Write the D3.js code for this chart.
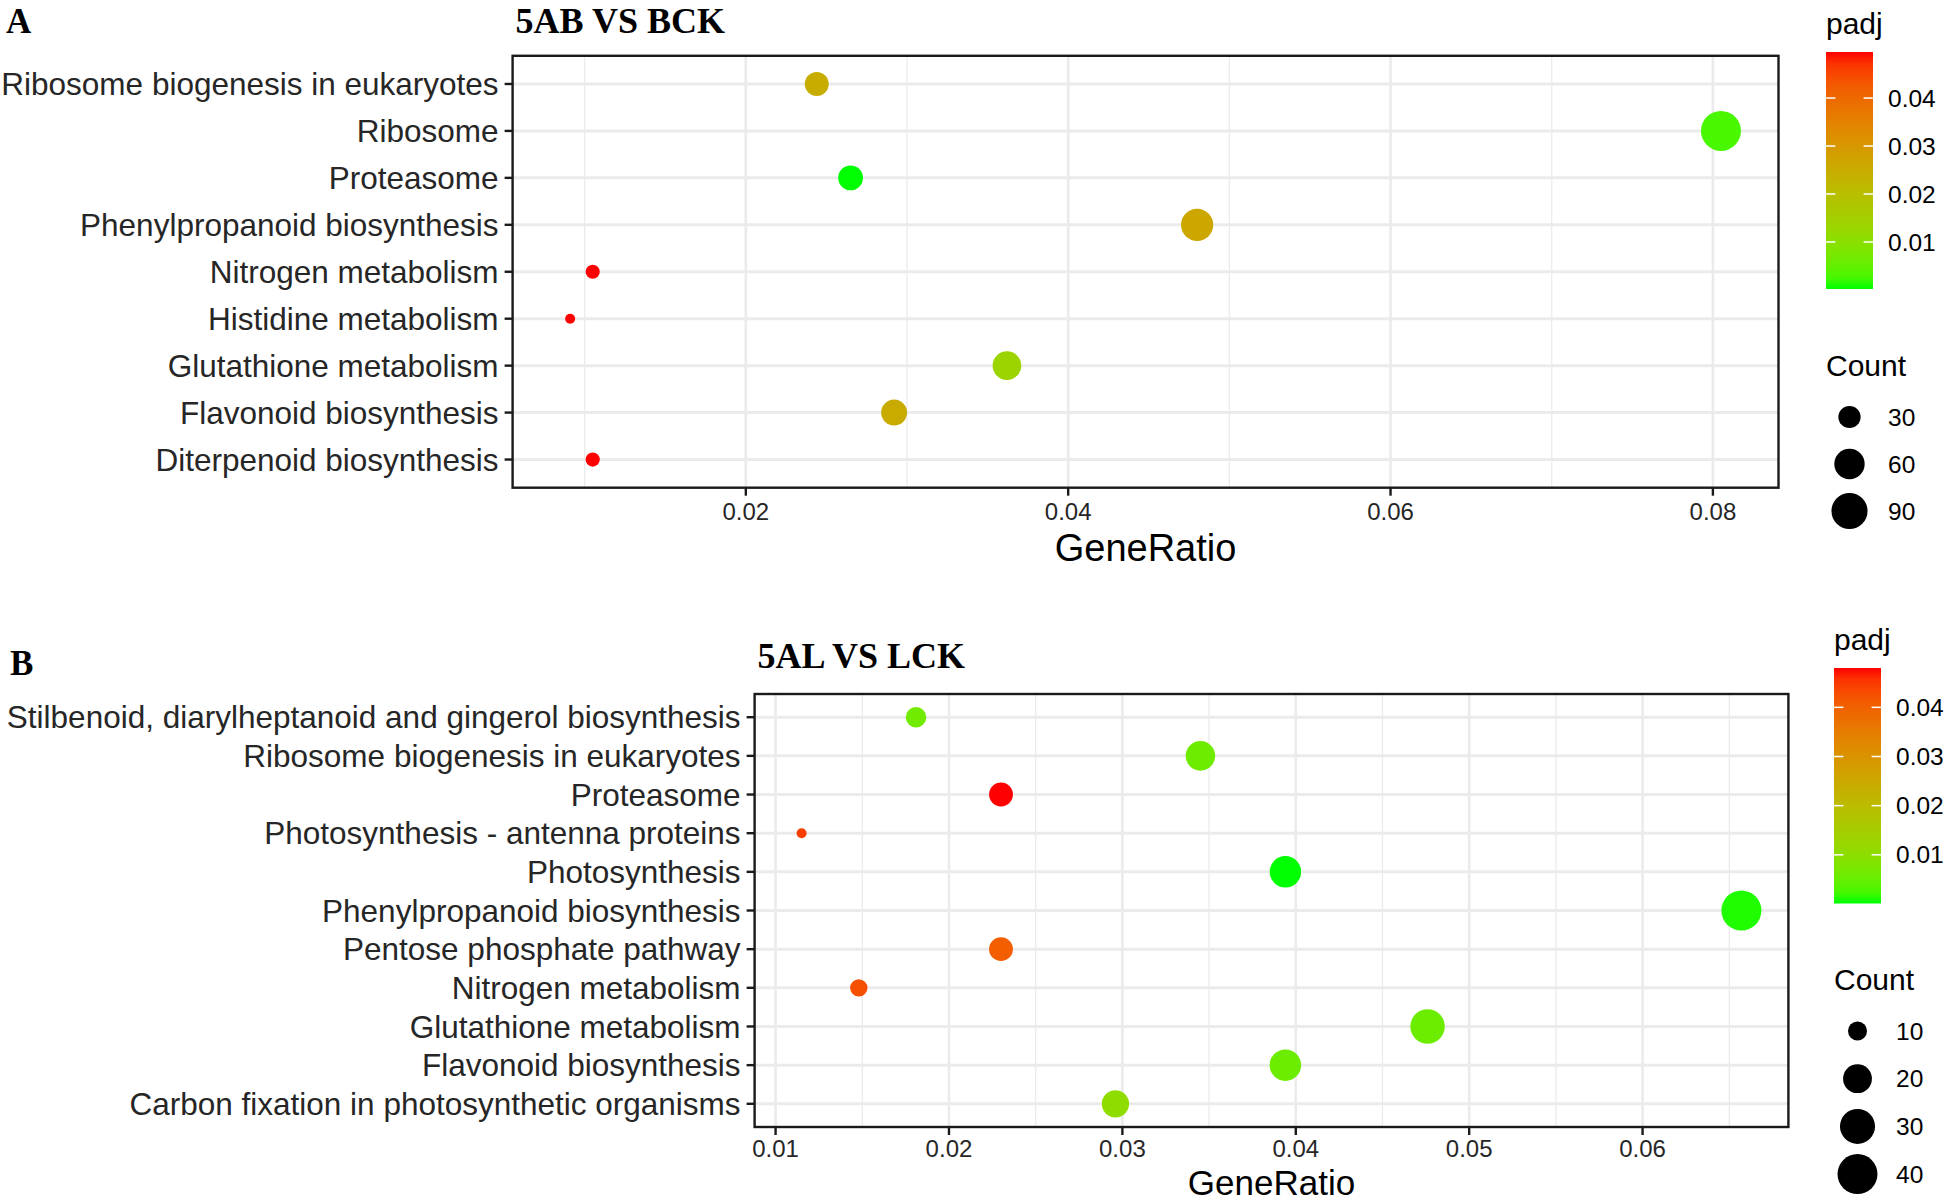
<!DOCTYPE html>
<html>
<head>
<meta charset="utf-8">
<script src="https://cdn.jsdelivr.net/npm/d3@7"></script>
<style>
  html, body { margin: 0; padding: 0; background: #ffffff; }
  svg { display: block; }
</style>
</head>
<body>
<svg id="chart" width="1946" height="1202"></svg>
<script>
// ---------------- DATA ----------------
// Panel A: 5AB VS BCK
const aTitle = "5AB VS BCK";
const aCategories = [
  "Ribosome biogenesis in eukaryotes",
  "Ribosome",
  "Proteasome",
  "Phenylpropanoid biosynthesis",
  "Nitrogen metabolism",
  "Histidine metabolism",
  "Glutathione metabolism",
  "Flavonoid biosynthesis",
  "Diterpenoid biosynthesis"
];
const aGeneRatio = [0.0244, 0.0805, 0.0265, 0.0480, 0.0105, 0.0091, 0.0362, 0.0292, 0.0105];
const aCount     = [35, 115, 38, 69, 15, 13, 52, 42, 15];
const aPadj      = [0.0245, 0.0027, 0.0002, 0.0260, 0.0496, 0.0496, 0.0135, 0.0250, 0.0496];
const aXTicks    = [0.02, 0.04, 0.06, 0.08];
const aPadjTicks = [0.01, 0.02, 0.03, 0.04];
const aCountBreaks = [30, 60, 90];

// Panel B: 5AL VS LCK
const bTitle = "5AL VS LCK";
const bCategories = [
  "Stilbenoid, diarylheptanoid and gingerol biosynthesis",
  "Ribosome biogenesis in eukaryotes",
  "Proteasome",
  "Photosynthesis - antenna proteins",
  "Photosynthesis",
  "Phenylpropanoid biosynthesis",
  "Pentose phosphate pathway",
  "Nitrogen metabolism",
  "Glutathione metabolism",
  "Flavonoid biosynthesis",
  "Carbon fixation in photosynthetic organisms"
];
const bGeneRatio = [0.0181, 0.0345, 0.0230, 0.0115, 0.0394, 0.0657, 0.0230, 0.0148, 0.0476, 0.0394, 0.0296];
const bCount     = [11, 21, 14, 7, 24, 40, 14, 9, 29, 24, 18];
const bPadj      = [0.0062, 0.0058, 0.0480, 0.0445, 0.0001, 0.0006, 0.0405, 0.0425, 0.0056, 0.0056, 0.0105];
const bXTicks    = [0.01, 0.02, 0.03, 0.04, 0.05, 0.06];
const bPadjTicks = [0.01, 0.02, 0.03, 0.04];
const bCountBreaks = [10, 20, 30, 40];

const panelLetters = ["A", "B"];
const xAxisTitle = "GeneRatio";
const colorTitle = "padj";
const sizeTitle = "Count";

// ---------------- LAYOUT ----------------
const svg = d3.select("#chart");
svg.append("rect").attr("width", 1946).attr("height", 1202).attr("fill", "#fff");

const SANS = "'Liberation Sans', Arial, Helvetica, sans-serif";
const SERIF = "'Liberation Serif', 'Times New Roman', serif";

function drawPanel(cfg) {
  const g = svg.append("g");
  const { left, right, top, bottom } = cfg.box;
  const xmin = d3.min(cfg.ratio), xmax = d3.max(cfg.ratio);
  const pad = (xmax - xmin) * 0.05;
  const x = d3.scaleLinear().domain([xmin - pad, xmax + pad]).range([left, right]);
  const y = d3.scalePoint().domain(cfg.categories).range([top, bottom]).padding(0.6);

  const cmin = d3.min(cfg.count), cmax = d3.max(cfg.count);
  const diam = c => 10 + 30 * Math.sqrt(Math.max(0, (c - cmin) / (cmax - cmin)));

  const pmin = d3.min(cfg.padj), pmax = d3.max(cfg.padj);
  const color = d3.scaleLinear().domain([pmin, pmax]).range(["#00ff00", "#ff0000"]).interpolate(d3.interpolateLab);

  g.append("rect").attr("x", left).attr("y", top).attr("width", right - left).attr("height", bottom - top).attr("fill", "#fff");

  const step = cfg.xTicks[1] - cfg.xTicks[0];
  const minors = [];
  for (let i = -1; i < cfg.xTicks.length; i++) {
    const v = cfg.xTicks[0] + step * i + step / 2;
    if (v > x.domain()[0] && v < x.domain()[1]) minors.push(v);
  }
  g.selectAll(".minor").data(minors).join("line")
    .attr("x1", d => x(d)).attr("x2", d => x(d)).attr("y1", top).attr("y2", bottom)
    .attr("stroke", "#ebebeb").attr("stroke-width", 1.3);
  g.selectAll(".vmajor").data(cfg.xTicks).join("line")
    .attr("x1", d => x(d)).attr("x2", d => x(d)).attr("y1", top).attr("y2", bottom)
    .attr("stroke", "#ebebeb").attr("stroke-width", 2.6);
  g.selectAll(".hmajor").data(cfg.categories).join("line")
    .attr("x1", left).attr("x2", right).attr("y1", d => y(d)).attr("y2", d => y(d))
    .attr("stroke", "#ebebeb").attr("stroke-width", 3);

  const pts = cfg.categories.map((c, i) => ({ c, r: cfg.ratio[i], n: cfg.count[i], p: cfg.padj[i] }));
  g.selectAll(".pt").data(pts).join("circle")
    .attr("cx", d => x(d.r)).attr("cy", d => y(d.c)).attr("r", d => diam(d.n) / 2)
    .attr("fill", d => color(d.p));

  g.append("rect").attr("x", left).attr("y", top).attr("width", right - left).attr("height", bottom - top)
    .attr("fill", "none").attr("stroke", "#1a1a1a").attr("stroke-width", 2.4);

  g.selectAll(".yt").data(cfg.categories).join("line")
    .attr("x1", left - 8).attr("x2", left).attr("y1", d => y(d)).attr("y2", d => y(d))
    .attr("stroke", "#1a1a1a").attr("stroke-width", 2.4);
  g.selectAll(".yl").data(cfg.categories).join("text")
    .attr("x", left - 14).attr("y", d => y(d)).attr("dy", "0.35em")
    .attr("text-anchor", "end").attr("font-family", SANS).attr("font-size", 31.5)
    .attr("fill", "#262626").text(d => d);

  g.selectAll(".xt").data(cfg.xTicks).join("line")
    .attr("x1", d => x(d)).attr("x2", d => x(d)).attr("y1", bottom).attr("y2", bottom + 8)
    .attr("stroke", "#1a1a1a").attr("stroke-width", 2.4);
  g.selectAll(".xl").data(cfg.xTicks).join("text")
    .attr("x", d => x(d)).attr("y", bottom + cfg.tickLabelOffset)
    .attr("text-anchor", "middle").attr("font-family", SANS).attr("font-size", 24)
    .attr("fill", "#262626").text(d => d3.format(".2f")(d));

  g.append("text").attr("x", (left + right) / 2).attr("y", cfg.xTitleY)
    .attr("text-anchor", "middle").attr("font-family", SANS).attr("font-size", cfg.xTitleSize)
    .attr("fill", "#000").text(xAxisTitle);

  g.append("text").attr("x", left + 3).attr("y", cfg.titleY)
    .attr("font-family", SERIF).attr("font-weight", "bold").attr("font-size", 36)
    .attr("fill", "#000").text(cfg.title);

  g.append("text").attr("x", cfg.letterX).attr("y", cfg.letterY)
    .attr("font-family", SERIF).attr("font-weight", "bold").attr("font-size", 35)
    .attr("fill", "#000").text(cfg.letter);

  const lg = cfg.legend;
  g.append("text").attr("x", lg.x).attr("y", lg.titleY)
    .attr("font-family", SANS).attr("font-size", 30).attr("fill", "#000").text(colorTitle);
  const gradId = "grad" + cfg.letter;
  const grad = svg.append("defs").append("linearGradient").attr("id", gradId)
    .attr("x1", 0).attr("y1", 1).attr("x2", 0).attr("y2", 0);
  d3.range(0, 21).forEach(i => {
    const t = i / 20;
    grad.append("stop").attr("offset", t).attr("stop-color", color(pmin + (pmax - pmin) * t));
  });
  g.append("rect").attr("x", lg.x).attr("y", lg.barTop).attr("width", lg.barW).attr("height", lg.barBottom - lg.barTop)
    .attr("fill", `url(#${gradId})`);
  const cb = d3.scaleLinear().domain([pmin, pmax]).range([lg.barBottom, lg.barTop]);
  cfg.padjTicks.forEach(v => {
    const yy = cb(v);
    g.append("line").attr("x1", lg.x).attr("x2", lg.x + lg.barW / 5).attr("y1", yy).attr("y2", yy)
      .attr("stroke", "#fff").attr("stroke-width", 1.5);
    g.append("line").attr("x1", lg.x + lg.barW * 4 / 5).attr("x2", lg.x + lg.barW).attr("y1", yy).attr("y2", yy)
      .attr("stroke", "#fff").attr("stroke-width", 1.5);
    g.append("text").attr("x", lg.x + lg.barW + 15).attr("y", yy).attr("dy", "0.35em")
      .attr("font-family", SANS).attr("font-size", 24.5).attr("fill", "#000").text(d3.format(".2f")(v));
  });

  g.append("text").attr("x", lg.x).attr("y", lg.sizeTitleY)
    .attr("font-family", SANS).attr("font-size", 30).attr("fill", "#000").text(sizeTitle);
  cfg.countBreaks.forEach((v, i) => {
    const yy = lg.sizeY0 + i * lg.sizeStep;
    g.append("circle").attr("cx", lg.x + lg.barW / 2).attr("cy", yy).attr("r", diam(v) / 2).attr("fill", "#000");
    g.append("text").attr("x", lg.x + lg.barW + 15).attr("y", yy).attr("dy", "0.35em")
      .attr("font-family", SANS).attr("font-size", 24.5).attr("fill", "#000").text(v);
  });
}

drawPanel({
  letter: panelLetters[0], letterX: 6, letterY: 33,
  title: aTitle, titleY: 33,
  box: { left: 512.6, right: 1778.5, top: 55.8, bottom: 487.7 },
  tickLabelOffset: 32, xTitleY: 561, xTitleSize: 38,
  categories: aCategories, ratio: aGeneRatio, count: aCount, padj: aPadj,
  xTicks: aXTicks, padjTicks: aPadjTicks, countBreaks: aCountBreaks,
  legend: { x: 1826, barW: 47, barTop: 52, barBottom: 289, titleY: 34,
            sizeTitleY: 376, sizeY0: 417, sizeStep: 47 }
});

drawPanel({
  letter: panelLetters[1], letterX: 10, letterY: 675,
  title: bTitle, titleY: 668,
  box: { left: 754.6, right: 1788.4, top: 694, bottom: 1127 },
  tickLabelOffset: 30, xTitleY: 1194.5, xTitleSize: 35,
  categories: bCategories, ratio: bGeneRatio, count: bCount, padj: bPadj,
  xTicks: bXTicks, padjTicks: bPadjTicks, countBreaks: bCountBreaks,
  legend: { x: 1834, barW: 47, barTop: 668, barBottom: 903.5, titleY: 650,
            sizeTitleY: 990, sizeY0: 1031, sizeStep: 47.7 }
});
</script>
</body>
</html>
